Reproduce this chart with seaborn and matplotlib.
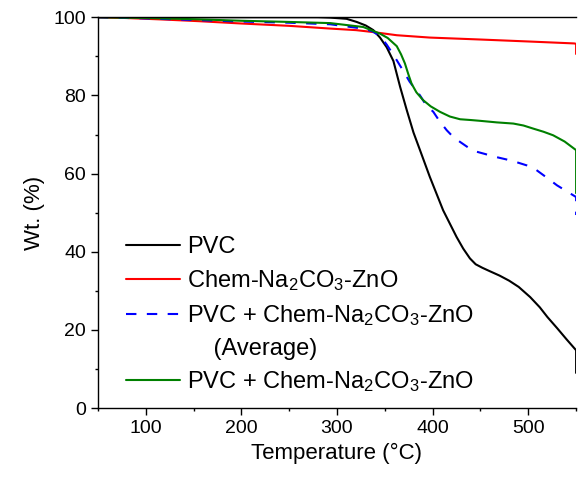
import numpy as np
import pandas as pd
import matplotlib
matplotlib.use("Agg")
import matplotlib.pyplot as plt
from matplotlib.lines import Line2D
from matplotlib.ticker import MultipleLocator
import seaborn as sns

# TGA curves (temperature in C, weight in %)
pvc_t = [50, 100, 150, 200, 250, 280, 293, 310, 320.6, 330, 338, 345, 352, 359, 366, 373, 380,
         386.8, 397, 411, 425, 432, 439, 445, 452, 460, 470, 480, 490, 502, 512, 520, 530, 540,
         550, 550]
pvc_w = [100, 100, 100, 100, 100, 100, 99.9, 99.6, 98.8, 97.9, 96.7, 94.8, 92.3, 88.8, 82.2, 76.2,
         70.5, 66.0, 59.2, 50.6, 43.8, 40.8, 38.3, 36.8, 35.9, 35.0, 33.9, 32.6, 31.0, 28.4, 25.8,
         23.3, 20.5, 17.6, 14.8, 9.0]

chem_t = [50, 80, 120, 155, 200, 250, 293, 320, 338, 362.5, 397, 450, 500, 548, 550, 550]
chem_w = [100, 99.8, 99.4, 99.0, 98.4, 97.8, 97.1, 96.7, 96.2, 95.4, 94.8, 94.3, 93.8, 93.3, 93.2, 90.6]

avg_t = [50, 100, 150, 200, 250, 293, 327, 337, 345, 352, 360, 369, 376, 386.8, 393, 400.7, 407,
         414.7, 421, 428.7, 437, 446, 455, 463.5, 477.5, 488, 498.4, 508, 515.8, 523, 530, 540,
         550, 550]
avg_w = [100, 99.7, 99.3, 98.9, 98.6, 98.2, 97.1, 96.4, 95.2, 93.0, 90.0, 86.4, 83.5, 80.0, 77.6,
         75.8, 73.5, 71.1, 69.5, 68.1, 66.7, 65.6, 65.0, 64.4, 63.6, 62.9, 62.1, 61.0, 59.6, 58.3,
         57.0, 55.5, 54.0, 49.4]

mix_t = [50, 100, 150, 200, 250, 293, 327.5, 345, 353, 362.5, 367, 371, 374.5, 378, 383, 390, 398,
         407.7, 418, 428.7, 440, 449.6, 467, 484.4, 495, 505.3, 516, 526, 538, 550, 550]
mix_w = [100, 99.8, 99.5, 99.1, 98.8, 98.5, 97.5, 95.8, 94.7, 92.6, 90.5, 88.2, 85.5, 83.0, 80.8,
         78.8, 77.2, 75.8, 74.6, 73.9, 73.7, 73.5, 73.1, 72.8, 72.3, 71.5, 70.7, 69.8, 68.2, 66.0,
         55.0]

labels = ["PVC", "Chem-Na$_2$CO$_3$-ZnO", "PVC + Chem-Na$_2$CO$_3$-ZnO", "PVC + Chem-Na$_2$CO$_3$-ZnO"]
colors = ["black", "red", "blue", "green"]

sns.set_style("ticks", {"text.color": "black", "axes.labelcolor": "black",
                        "xtick.color": "black", "ytick.color": "black",
                        "axes.edgecolor": "black"})
plt.rcParams["font.family"] = ["Liberation Sans", "DejaVu Sans"]
plt.rcParams["mathtext.fontset"] = "custom"
plt.rcParams["mathtext.rm"] = "Liberation Sans"
plt.rcParams["mathtext.default"] = "regular"

fig = plt.figure(figsize=(5.79, 4.79), dpi=100)
ax = fig.add_axes([0.169, 0.148, 0.826, 0.816])

series = [(pvc_t, pvc_w), (chem_t, chem_w), (avg_t, avg_w), (mix_t, mix_w)]
for i, (t, w) in enumerate(series):
    sns.lineplot(x=t, y=w, color=colors[i], ax=ax, estimator=None, sort=False,
                 linewidth=1.5, linestyle=(0, (5, 5)) if i == 2 else "-")

ax.set_xlim(50, 550)
ax.set_ylim(0, 100)
ax.xaxis.set_major_locator(MultipleLocator(100))
ax.xaxis.set_minor_locator(MultipleLocator(50))
ax.yaxis.set_major_locator(MultipleLocator(20))
ax.yaxis.set_minor_locator(MultipleLocator(10))
ax.tick_params(which="major", length=5, width=1, labelsize=14, direction="out")
ax.tick_params(which="minor", length=2.5, width=1, direction="out")
ax.spines["right"].set_visible(False)
for s in ["left", "bottom", "top"]:
    ax.spines[s].set_linewidth(1)
ax.set_xlabel("Temperature (°C)", fontsize=16, labelpad=4)
ax.set_ylabel("Wt. (%)", fontsize=16, labelpad=6)

handles = [Line2D([], [], color="black", lw=1.5),
           Line2D([], [], color="red", lw=1.5),
           Line2D([], [], color="blue", lw=1.5, linestyle=(0, (5, 5))),
           Line2D([], [], color="none"),
           Line2D([], [], color="green", lw=1.5)]
leg_labels = [labels[0], labels[1], labels[2], "    (Average)", labels[3]]
ax.legend(handles, leg_labels, loc="lower left", bbox_to_anchor=(0.0586, 0.035), frameon=False,
          fontsize=17, handlelength=2.3, handletextpad=0.3, labelspacing=0.42,
          borderpad=0, borderaxespad=0)

fig.savefig("out.png", dpi=100)
